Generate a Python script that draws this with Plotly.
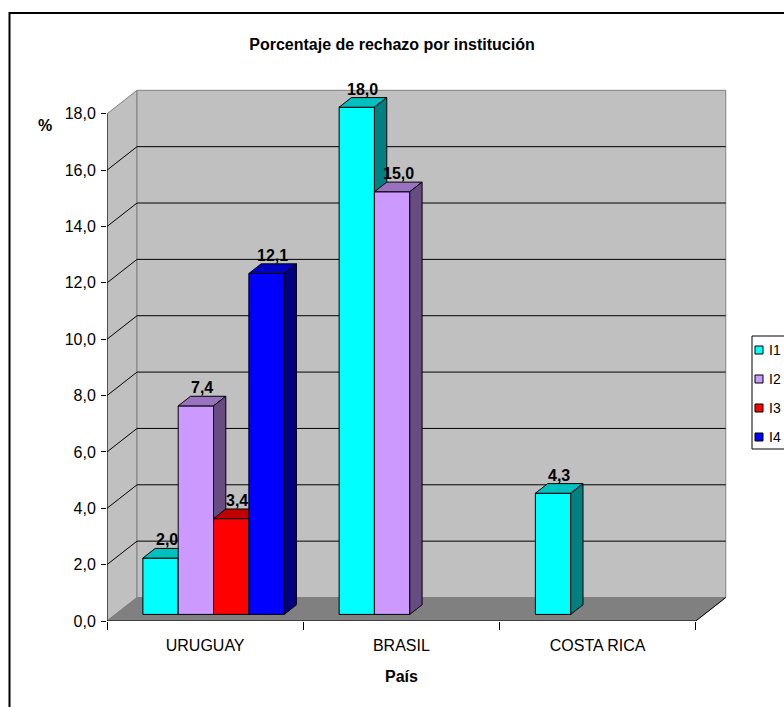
import plotly.graph_objects as go

# ---- data -------------------------------------------------------------
countries = ["URUGUAY", "BRASIL", "COSTA RICA"]
series_names = ["I1", "I2", "I3", "I4"]
i1_values = [2.0, 18.0, 4.3]
i2_values = [7.4, 15.0, None]
i3_values = [3.4, None, None]
i4_values = [12.1, None, None]
y_tick_values = [0, 2, 4, 6, 8, 10, 12, 14, 16, 18]

series_values = [i1_values, i2_values, i3_values, i4_values]

# ---- styling ----------------------------------------------------------
# (front, top, side) shades for each institution
series_colors = [
    ("#00FFFF", "#00C0C0", "#008080"),
    ("#CC99FF", "#9973BF", "#664C80"),
    ("#FF0000", "#C00000", "#800000"),
    ("#0000FF", "#0000C0", "#000080"),
]
FONT = "Liberation Sans, Arial, sans-serif"

W, H = 784, 707
L, R, T, B = 107, 49, 80, 86
PW, PH = W - L - R, H - T - B
X_MAX, Y_MAX = 3.2, 19.2
Y_TOP = 18.0
n_cat = len(countries)

px_x = PW / X_MAX
px_y = PH / Y_MAX

# oblique depth of the wall box (in axis units)
DX = 30 / px_x
DY = 23.5 / px_y
# bars occupy this slice of the depth
BAR_F0, BAR_F1 = 0.28, 0.69
SLOT = 0.18
GAP = (1 - SLOT * len(series_names)) / 2


def paper_x(px):
    return (px - L) / PW


def paper_y(py):
    return (H - B - py) / PH


def poly(points, fill, line="black", width=1):
    d = "M " + " L ".join(f"{x},{y}" for x, y in points) + " Z"
    return dict(type="path", path=d, xref="x", yref="y",
                fillcolor=fill, line=dict(color=line, width=width), layer="above")


def seg(points, color="black", width=1):
    d = "M " + " L ".join(f"{x},{y}" for x, y in points)
    return dict(type="path", path=d, xref="x", yref="y",
                line=dict(color=color, width=width), layer="above")


shapes = []
annotations = []

# walls and floor
shapes.append(poly([(0, 0), (DX, DY), (DX, Y_TOP + DY), (0, Y_TOP)], "#C0C0C0", "#808080"))
shapes.append(poly([(DX, DY), (n_cat + DX, DY), (n_cat + DX, Y_TOP + DY), (DX, Y_TOP + DY)],
                   "#C0C0C0", "#808080"))
shapes.append(poly([(0, 0), (n_cat, 0), (n_cat + DX, DY), (DX, DY)], "#808080", "#808080"))

# gridlines running along side wall and back wall
for v in y_tick_values:
    if 0 < v < Y_TOP:
        shapes.append(seg([(0, v), (DX, v + DY), (n_cat + DX, v + DY)]))

# front axis lines
shapes.append(seg([(0, 0), (0, Y_TOP)]))
shapes.append(seg([(0, 0), (n_cat, 0), (n_cat + DX, DY)]))

# 3D bars
bdx = (BAR_F1 - BAR_F0) * DX
bdy = (BAR_F1 - BAR_F0) * DY
y0 = BAR_F0 * DY
for ci in range(n_cat):
    for si, values in enumerate(series_values):
        v = values[ci]
        if v is None:
            continue
        front, top, side = series_colors[si]
        x0 = ci + GAP + si * SLOT + BAR_F0 * DX
        x1 = x0 + SLOT
        shapes.append(poly([(x0, y0), (x1, y0), (x1, y0 + v), (x0, y0 + v)], front))
        shapes.append(poly([(x0, y0 + v), (x1, y0 + v), (x1 + bdx, y0 + v + bdy),
                            (x0 + bdx, y0 + v + bdy)], top))
        shapes.append(poly([(x1, y0), (x1 + bdx, y0 + bdy), (x1 + bdx, y0 + v + bdy),
                            (x1, y0 + v)], side))
        annotations.append(dict(
            x=(x0 + x1) / 2 + bdx / 2, y=y0 + v + bdy, xref="x", yref="y",
            text=f"<b>{v:.1f}</b>".replace(".", ","), showarrow=False,
            yanchor="bottom", xanchor="center", yshift=-2,
            font=dict(family=FONT, size=16, color="black")))

# chart frame
shapes.append(dict(type="rect", xref="paper", yref="paper",
                   x0=paper_x(9.5), y0=paper_y(720), x1=paper_x(800), y1=paper_y(13),
                   line=dict(color="black", width=2), fillcolor="rgba(0,0,0,0)",
                   layer="below"))

# legend
shapes.append(dict(type="rect", xref="paper", yref="paper",
                   x0=paper_x(752), y0=paper_y(449), x1=paper_x(820), y1=paper_y(336),
                   line=dict(color="black", width=1), fillcolor="white", layer="above"))
legend_rows = [350, 379, 408, 437]
for si, name in enumerate(series_names):
    cy = legend_rows[si]
    shapes.append(dict(type="rect", xref="paper", yref="paper",
                       x0=paper_x(755), y0=paper_y(cy + 4), x1=paper_x(763), y1=paper_y(cy - 4),
                       line=dict(color="black", width=1), fillcolor=series_colors[si][0],
                       layer="above"))
    annotations.append(dict(x=paper_x(767), y=paper_y(cy), xref="paper", yref="paper",
                            text=name, showarrow=False, xanchor="left", yanchor="middle",
                            font=dict(family=FONT, size=14, color="black")))

# axis titles
annotations.append(dict(x=paper_x(44.5), y=paper_y(125), xref="paper", yref="paper",
                        text="<b>%</b>", showarrow=False, xanchor="center", yanchor="middle",
                        font=dict(family=FONT, size=16, color="black")))
annotations.append(dict(x=paper_x(401), y=paper_y(676), xref="paper", yref="paper",
                        text="<b>País</b>", showarrow=False, xanchor="center", yanchor="middle",
                        font=dict(family=FONT, size=16, color="black")))

fig = go.Figure()
fig.add_trace(go.Scatter(x=[], y=[], showlegend=False))

fig.update_layout(
    width=W, height=H,
    margin=dict(l=L, r=R, t=T, b=B, pad=0),
    paper_bgcolor="white", plot_bgcolor="white",
    separators=",.",
    showlegend=False,
    title=dict(text="<b>Porcentaje de rechazo por institución</b>",
               x=392 / W, xref="container", xanchor="center",
               y=1 - 44 / H, yref="container", yanchor="middle",
               font=dict(family=FONT, size=16, color="black")),
    xaxis=dict(range=[0, X_MAX], tickmode="array",
               tickvals=[i + 0.5 for i in range(n_cat)], ticktext=countries,
               ticks="outside", ticklen=10, tickcolor="rgba(0,0,0,0)",
               minor=dict(tickmode="array", tickvals=list(range(n_cat + 1)),
                          ticks="outside", ticklen=8, tickcolor="black", tickwidth=1),
               showline=False, showgrid=False, zeroline=False, automargin=False,
               fixedrange=True,
               tickfont=dict(family=FONT, size=16, color="black")),
    yaxis=dict(range=[0, Y_MAX], tickmode="array", tickvals=y_tick_values,
               tickformat=".1f", ticks="outside", ticklen=5, tickcolor="black",
               tickwidth=1, showline=False, showgrid=False, zeroline=False,
               automargin=False, fixedrange=True, ticklabelstandoff=2,
               tickfont=dict(family=FONT, size=16, color="black")),
    shapes=shapes,
    annotations=annotations,
)

fig.write_html("out.html")
